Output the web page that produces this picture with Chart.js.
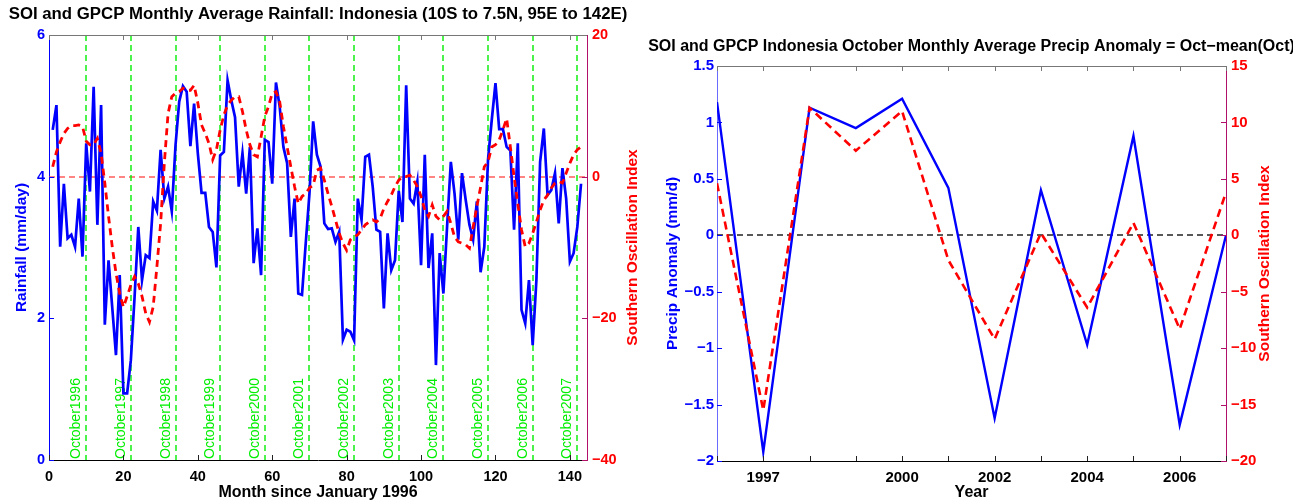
<!DOCTYPE html>
<html>
<head>
<meta charset="utf-8">
<script src="https://cdn.jsdelivr.net/npm/chart.js@4.4.0/dist/chart.umd.min.js"></script>
<style>
  html, body { margin: 0; padding: 0; background: #fff; }
  body { width: 1293px; height: 502px; position: relative; overflow: hidden; }
  canvas { position: absolute; top: 0; }
  #graficoMensual { left: 0; }
  #graficoOctubre { left: 645px; }
</style>
</head>
<body>
<canvas id="graficoMensual" width="645" height="502"></canvas>
<canvas id="graficoOctubre" width="648" height="502"></canvas>
<script>
// ---- panel izquierdo: lluvia mensual (mm/day) y SOI, enero 1996 .. noviembre 2007
const lluviaMensual = [
  4.66, 5.01, 3.01, 3.90, 3.13, 3.18, 3.01, 3.69, 2.87, 4.47, 3.79, 5.27,
  3.32, 5.01, 1.91, 2.82, 2.15, 1.48, 2.61, 0.94, 0.94, 1.41, 2.30, 3.29,
  2.54, 2.89, 2.85, 3.65, 3.52, 4.38, 3.69, 3.86, 3.51, 4.44, 5.06, 5.28,
  5.20, 4.43, 5.03, 4.33, 3.77, 3.77, 3.29, 3.22, 2.72, 4.30, 4.35, 5.36,
  5.08, 4.84, 3.86, 4.33, 3.76, 4.42, 2.78, 3.27, 2.61, 4.52, 4.49, 3.90,
  5.33, 4.99, 4.42, 4.19, 3.15, 3.69, 2.35, 2.33, 3.06, 3.76, 4.78, 4.31,
  4.14, 3.34, 3.26, 3.27, 3.08, 3.22, 1.70, 1.84, 1.81, 1.69, 3.69, 3.39,
  4.28, 4.31, 3.86, 3.25, 3.22, 2.14, 3.20, 2.68, 2.82, 3.80, 3.36, 5.29,
  3.69, 3.62, 3.93, 2.75, 4.31, 2.71, 3.20, 1.34, 2.92, 2.35, 3.30, 4.21,
  3.76, 3.11, 4.05, 3.67, 3.32, 3.11, 3.65, 2.65, 3.01, 4.24, 4.80, 5.32,
  4.67, 4.67, 4.42, 4.37, 3.25, 4.47, 2.12, 1.93, 2.54, 1.62, 2.54, 4.21,
  4.68, 3.74, 3.81, 4.05, 3.34, 4.12, 3.69, 2.80, 2.92, 3.29, 3.90
];
const soiMensual = [
  1.4, 3.5, 4.9, 6.1, 6.8, 7.2, 7.2, 7.3, 7.1, 5.0, 4.5, 4.5,
  5.4, 3.3, -0.9, -5.6, -9.9, -13.6, -16.5, -18.4, -16.9, -15.3, -14.1, -15.1,
  -16.9, -19.3, -20.5, -18.4, -12.7, -6.6, 1.9, 8.9, 11.3, 11.8, 12.0, 12.5,
  12.2, 12.2, 12.9, 10.4, 7.3, 6.1, 4.7, 2.4, 3.8, 6.6, 8.7, 10.1,
  10.8, 11.3, 11.3, 9.2, 6.6, 4.5, 3.1, 2.8, 5.6, 8.5, 9.9, 11.8,
  12.0, 10.6, 7.1, 4.2, 1.4, -1.4, -3.8, -2.8, -2.4, -1.6, -1.2, 0.9,
  1.2, -0.5, -2.4, -4.2, -6.1, -8.0, -9.4, -10.4, -8.9, -8.5, -8.2, -7.5,
  -6.8, -6.4, -6.1, -6.4, -5.9, -4.5, -3.5, -2.6, -1.4, -0.5, 0.0, 0.0,
  0.2, -0.5, -1.4, -2.8, -4.7, -5.6, -4.0, -5.6, -6.1, -5.6, -4.9, -6.6,
  -8.5, -9.2, -9.4, -9.6, -10.1, -7.1, -4.2, -1.5, 1.4, 2.1, 4.2, 4.5,
  5.2, 6.6, 8.2, 4.2, 0.0, -3.8, -7.5, -9.9, -9.4, -8.0, -6.4, -4.7,
  -3.3, -2.6, -1.6, -0.9, -0.7, -0.9, 0.5, 1.9, 3.1, 3.8, 4.2
];
const mesesOctubre = [10, 22, 34, 46, 58, 70, 82, 94, 106, 118, 130, 142];
const etiquetasOctubre = [
  'October1996', 'October1997', 'October1998', 'October1999', 'October2000', 'October2001',
  'October2002', 'October2003', 'October2004', 'October2005', 'October2006', 'October2007'
];
const ticksMes = [0, 20, 40, 60, 80, 100, 120, 140];
const ticksLluvia = [0, 2, 4, 6];
const ticksSoi = [-40, -20, 0, 20];

// ---- panel derecho: anomalia de octubre y SOI de octubre
const anios = [1996, 1997, 1998, 1999, 2000, 2001, 2002, 2003, 2004, 2005, 2006, 2007];
const anomaliaOctubre = [1.18, -1.92, 1.13, 0.95, 1.21, 0.42, -1.62, 0.40, -0.97, 0.88, -1.68, 0.0];
const soiOctubre = [4.6, -15.5, 11.3, 7.5, 11.0, -2.2, -9.2, 0.2, -6.4, 1.1, -8.3, 3.8];
const aniosConEtiqueta = [1997, 2000, 2002, 2004, 2006];
const ticksAnomalia = [-2, -1.5, -1, -0.5, 0, 0.5, 1, 1.5];
const ticksSoiOctubre = [-20, -15, -10, -5, 0, 5, 10, 15];

const FUENTE = '"Liberation Sans", Arial, Helvetica, sans-serif';
const AZUL = '#0000ff';
const ROJO = '#ff0000';
const MAGENTA = '#b0106a';
const VERDE = '#00ee00';

function conMenos(v){
  return String(v).replace('-', '\u2212');
}

function linea(ctx, x1, y1, x2, y2){
  ctx.beginPath();
  ctx.moveTo(x1, y1);
  ctx.lineTo(x2, y2);
  ctx.stroke();
}

function textoVertical(ctx, texto, x, y, color){
  ctx.save();
  ctx.translate(x, y);
  ctx.rotate(-Math.PI / 2);
  ctx.fillStyle = color;
  ctx.textAlign = 'center';
  ctx.textBaseline = 'middle';
  ctx.fillText(texto, 0, 0);
  ctx.restore();
}

const decoracion = {
  id: 'decoracion',
  beforeDatasetsDraw(chart, args, o){
    const { ctx, chartArea: a, scales } = chart;
    ctx.save();

    // linea de cero
    const yc = Math.round(scales[o.ejeCero].getPixelForValue(0));
    ctx.strokeStyle = o.colorCero;
    ctx.lineWidth = 1.3;
    ctx.setLineDash([6, 4]);
    linea(ctx, a.left, yc, a.right, yc);

    // lineas verticales de octubre con su etiqueta
    if (o.octubres){
      o.octubres.forEach((m, i) => {
        const x = Math.round(scales.x.getPixelForValue(m));
        ctx.strokeStyle = VERDE;
        ctx.lineWidth = 1.4;
        ctx.setLineDash([6, 4]);
        linea(ctx, x, a.top, x, a.bottom);
        ctx.save();
        ctx.translate(x - 3, a.bottom - 1);
        ctx.rotate(-Math.PI / 2);
        ctx.fillStyle = VERDE;
        ctx.font = `14px ${FUENTE}`;
        ctx.textAlign = 'left';
        ctx.textBaseline = 'bottom';
        ctx.fillText(o.etiquetas[i], 0, 0);
        ctx.restore();
      });
    }
    ctx.restore();
  },
  afterDraw(chart, args, o){
    const { ctx, chartArea: a, scales } = chart;
    const largo = 5;
    ctx.save();
    ctx.lineWidth = 1;
    ctx.setLineDash([]);

    // marcas hacia adentro
    scales.x.ticks.forEach(t => {
      const x = Math.round(scales.x.getPixelForValue(t.value)) + 0.5;
      ctx.strokeStyle = '#222';
      linea(ctx, x, a.bottom, x, a.bottom - largo);
      ctx.strokeStyle = '#777';
      linea(ctx, x, a.top, x, a.top + largo);
    });
    scales.y.ticks.forEach(t => {
      const y = Math.round(scales.y.getPixelForValue(t.value)) + 0.5;
      ctx.strokeStyle = AZUL;
      linea(ctx, a.left, y, a.left + largo, y);
    });
    scales.y1.ticks.forEach(t => {
      const y = Math.round(scales.y1.getPixelForValue(t.value)) + 0.5;
      ctx.strokeStyle = MAGENTA;
      linea(ctx, a.right, y, a.right - largo, y);
    });

    // borde superior
    ctx.strokeStyle = '#777';
    linea(ctx, a.left, Math.round(a.top) + 0.5, a.right, Math.round(a.top) + 0.5);

    // titulos
    const cx = (a.left + a.right) / 2;
    const cy = (a.top + a.bottom) / 2;
    ctx.fillStyle = '#000';
    ctx.textAlign = 'center';
    ctx.textBaseline = 'middle';
    ctx.font = `bold ${o.tamTitulo}px ${FUENTE}`;
    ctx.fillText(o.titulo, cx, o.tituloY);
    ctx.font = `bold 16px ${FUENTE}`;
    ctx.fillText(o.tituloX, cx, o.tituloXY);
    ctx.font = `bold 15.5px ${FUENTE}`;
    textoVertical(ctx, o.tituloIzq, o.tituloIzqX, cy, AZUL);
    textoVertical(ctx, o.tituloDer, o.tituloDerX, cy, ROJO);
    ctx.restore();
  }
};

function fuenteTicks(tam){
  return { family: FUENTE, size: tam, weight: 'bold' };
}

function crearGraficoMensual(){
  const ctx = document.getElementById('graficoMensual').getContext('2d');
  return new Chart(ctx, {
    type: 'line',
    data: {
      datasets: [
        {
          label: 'SOI',
          data: soiMensual.map((v, i) => ({ x: i + 1, y: v })),
          yAxisID: 'y1',
          borderColor: ROJO,
          borderWidth: 2.8,
          borderDash: [7, 5],
          pointRadius: 0,
          tension: 0,
          order: 1
        },
        {
          label: 'Rainfall',
          data: lluviaMensual.map((v, i) => ({ x: i + 1, y: v })),
          yAxisID: 'y',
          borderColor: AZUL,
          borderWidth: 2.7,
          pointRadius: 0,
          tension: 0,
          order: 2
        }
      ]
    },
    options: {
      responsive: false,
      animation: false,
      layout: { padding: { top: 35, left: 0, right: 0, bottom: 0 } },
      scales: {
        x: {
          type: 'linear',
          min: 0,
          max: 144.6,
          afterBuildTicks: s => { s.ticks = ticksMes.map(v => ({ value: v })); },
          afterFit: s => { s.height = 42; },
          ticks: { autoSkip: false, maxRotation: 0, padding: 8, color: '#000', font: fuenteTicks(14.5) },
          grid: { display: false, drawTicks: false },
          border: { display: true, color: '#000', width: 1 }
        },
        y: {
          position: 'left',
          min: 0,
          max: 6,
          afterBuildTicks: s => { s.ticks = ticksLluvia.map(v => ({ value: v })); },
          afterFit: s => { s.width = 49; },
          ticks: { padding: 4, color: AZUL, font: fuenteTicks(14.5), callback: v => conMenos(v) },
          grid: { display: false, drawTicks: false },
          border: { display: true, color: AZUL, width: 1 }
        },
        y1: {
          position: 'right',
          min: -40,
          max: 20,
          afterBuildTicks: s => { s.ticks = ticksSoi.map(v => ({ value: v })); },
          afterFit: s => { s.width = 58; },
          ticks: { padding: 5, color: ROJO, font: fuenteTicks(14.5), callback: v => conMenos(v) },
          grid: { display: false, drawTicks: false },
          border: { display: true, color: MAGENTA, width: 1 }
        }
      },
      plugins: {
        legend: { display: false },
        tooltip: { enabled: false },
        decoracion: {
          ejeCero: 'y1',
          colorCero: 'rgba(255,50,50,0.8)',
          octubres: mesesOctubre,
          etiquetas: etiquetasOctubre,
          titulo: 'SOI and GPCP Monthly Average Rainfall: Indonesia (10S to 7.5N, 95E to 142E)',
          tamTitulo: 16.8,
          tituloY: 14,
          tituloX: 'Month since January 1996',
          tituloXY: 493,
          tituloIzq: 'Rainfall (mm/day)',
          tituloIzqX: 22,
          tituloDer: 'Southern Oscillation Index',
          tituloDerX: 633
        }
      }
    },
    plugins: [decoracion]
  });
}

function crearGraficoOctubre(){
  const ctx = document.getElementById('graficoOctubre').getContext('2d');
  return new Chart(ctx, {
    type: 'line',
    data: {
      datasets: [
        {
          label: 'SOI',
          data: soiOctubre.map((v, i) => ({ x: anios[i], y: v })),
          yAxisID: 'y1',
          borderColor: ROJO,
          borderWidth: 2.6,
          borderDash: [8, 5],
          pointRadius: 0,
          tension: 0,
          order: 1
        },
        {
          label: 'Precip Anomaly',
          data: anomaliaOctubre.map((v, i) => ({ x: anios[i], y: v })),
          yAxisID: 'y',
          borderColor: AZUL,
          borderWidth: 2.4,
          pointRadius: 0,
          tension: 0,
          order: 2
        }
      ]
    },
    options: {
      responsive: false,
      animation: false,
      layout: { padding: { top: 66, left: 0, right: 0, bottom: 0 } },
      scales: {
        x: {
          type: 'linear',
          min: anios[0],
          max: anios[anios.length - 1],
          afterBuildTicks: s => { s.ticks = anios.map(v => ({ value: v })); },
          afterFit: s => { s.height = 41; },
          ticks: {
            autoSkip: false, maxRotation: 0, padding: 8, color: '#000', font: fuenteTicks(15),
            callback: v => aniosConEtiqueta.includes(v) ? String(v) : ''
          },
          grid: { display: false, drawTicks: false },
          border: { display: true, color: '#000', width: 1 }
        },
        y: {
          position: 'left',
          min: -2,
          max: 1.5,
          afterBuildTicks: s => { s.ticks = ticksAnomalia.map(v => ({ value: v })); },
          afterFit: s => { s.width = 72; },
          ticks: { padding: 3, color: AZUL, font: fuenteTicks(15), callback: v => conMenos(v) },
          grid: { display: false, drawTicks: false },
          border: { display: true, color: '#6a6aff', width: 1 }
        },
        y1: {
          position: 'right',
          min: -20,
          max: 15,
          afterBuildTicks: s => { s.ticks = ticksSoiOctubre.map(v => ({ value: v })); },
          afterFit: s => { s.width = 67; },
          ticks: { padding: 5, color: ROJO, font: fuenteTicks(15), callback: v => conMenos(v) },
          grid: { display: false, drawTicks: false },
          border: { display: true, color: MAGENTA, width: 1 }
        }
      },
      plugins: {
        legend: { display: false },
        tooltip: { enabled: false },
        decoracion: {
          ejeCero: 'y',
          colorCero: '#222',
          titulo: 'SOI and GPCP Indonesia October Monthly Average Precip Anomaly = Oct\u2212mean(Oct)',
          tamTitulo: 16,
          tituloY: 47,
          tituloX: 'Year',
          tituloXY: 493,
          tituloIzq: 'Precip Anomaly (mm/d)',
          tituloIzqX: 28,
          tituloDer: 'Southern Oscillation Index',
          tituloDerX: 620
        }
      }
    },
    plugins: [decoracion]
  });
}

crearGraficoMensual();
crearGraficoOctubre();
</script>
</body>
</html>
